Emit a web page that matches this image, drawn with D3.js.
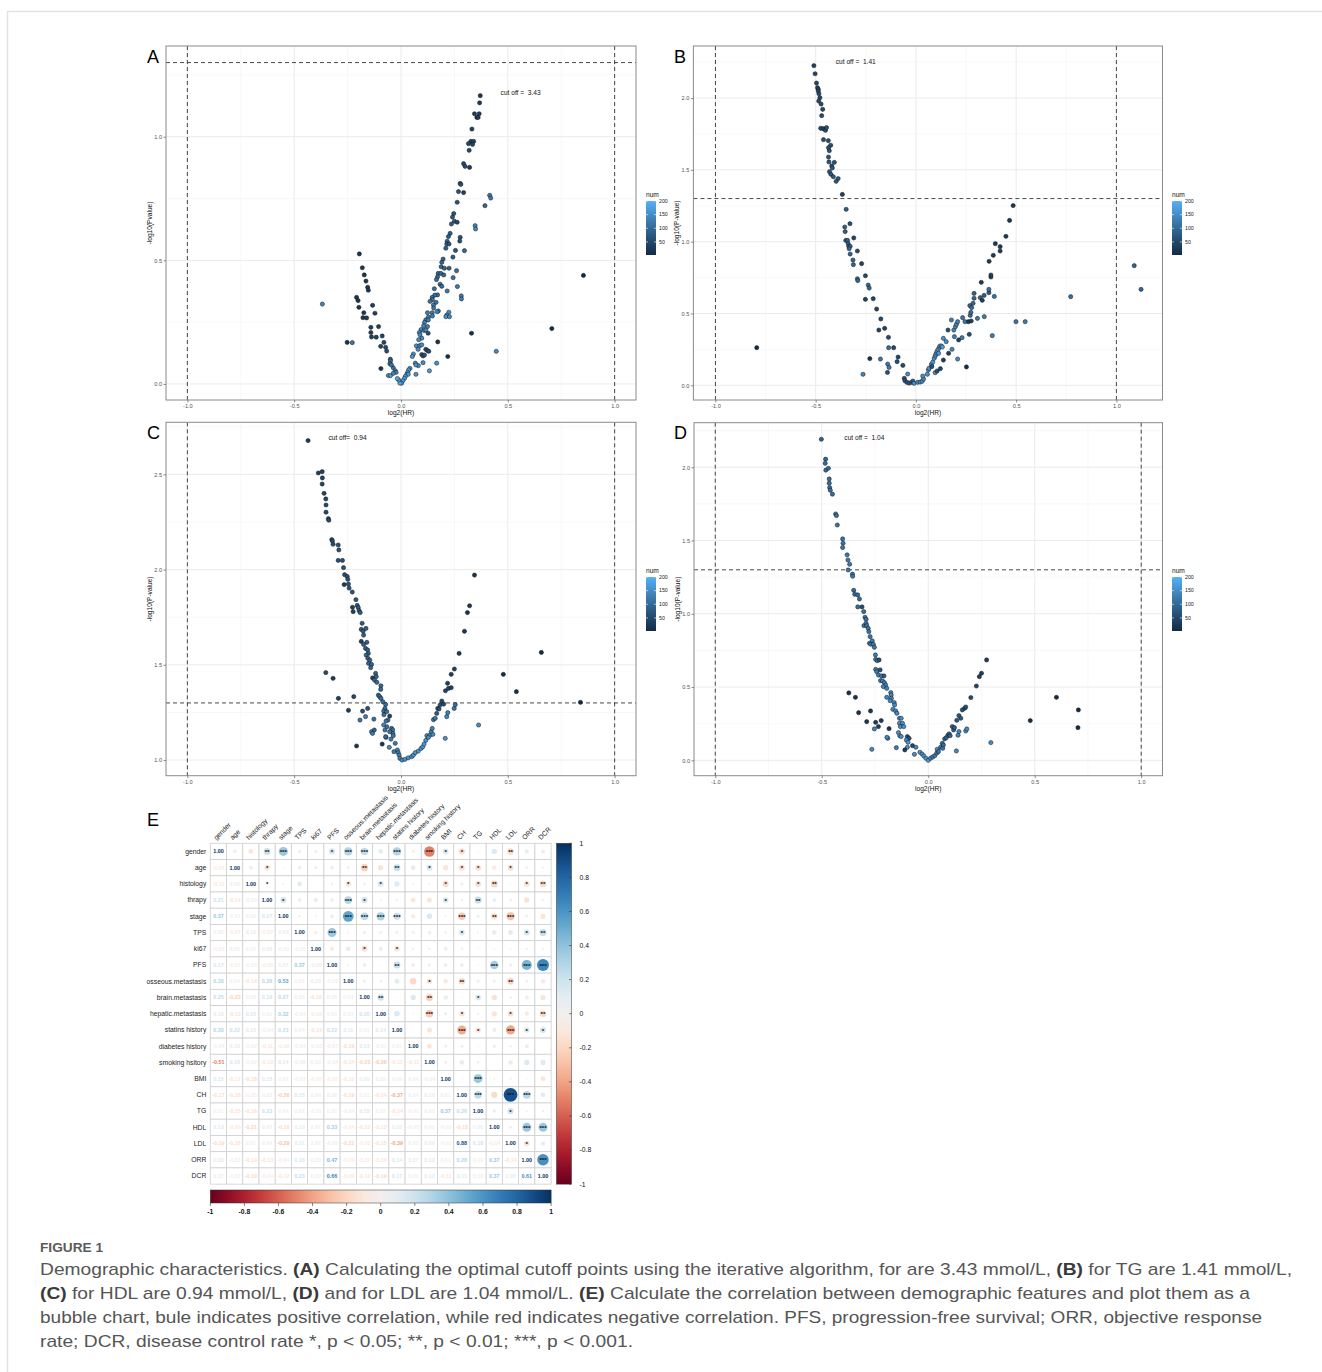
<!DOCTYPE html>
<html>
<head>
<meta charset="utf-8">
<script src="https://cdn.jsdelivr.net/npm/d3@7"></script>
<style>
  body { margin: 0; background: #fff; }
  svg { display: block; }
  text { font-family: "Liberation Sans", Arial, sans-serif; }
</style>
</head>
<body>
<svg id="fig" width="1322" height="1372"></svg>
<script>
// ---- volcano data: [log2(HR), -log10(P), num] ----
var ptsA = [
  [0.371,1.166,25],[0.368,1.137,28],[0.344,1.093,30],[0.366,1.093,32],[0.355,1.078,35],[0.361,1.078,34],[0.332,1.031,40],
  [0.327,0.981,45],[0.340,0.981,44],[0.316,0.972,48],[0.335,0.969,47],[0.319,0.945,50],[0.293,0.891,55],[0.300,0.880,56],
  [0.321,0.876,30],[0.277,0.811,60],[0.280,0.807,62],[0.269,0.778,64],[0.293,0.774,40],[0.263,0.735,66],[0.415,0.763,120],
  [0.420,0.752,125],[0.393,0.721,95],[0.247,0.689,70],[0.241,0.675,72],[0.250,0.658,74],[0.263,0.654,50],[0.236,0.647,76],
  [0.347,0.640,140],[0.349,0.627,145],[0.230,0.609,80],[0.222,0.596,82],[0.277,0.593,60],[0.216,0.577,85],[0.275,0.578,62],
  [0.214,0.566,86],[0.225,0.566,70],[0.210,0.549,88],[0.255,0.540,75],[0.297,0.539,100],[0.197,0.505,92],[0.243,0.513,80],
  [0.191,0.492,95],[0.188,0.474,97],[0.203,0.468,90],[0.225,0.468,85],[0.174,0.447,100],[0.186,0.447,98],[0.260,0.458,110],
  [0.244,0.430,115],[0.171,0.433,102],[0.166,0.422,104],[0.200,0.441,95],[0.183,0.403,100],[0.191,0.395,105],[0.156,0.385,108],
  [0.216,0.376,120],[0.264,0.394,125],[0.171,0.360,110],[0.158,0.359,112],[0.146,0.350,115],[0.147,0.341,116],[0.136,0.334,118],
  [0.164,0.330,120],[0.152,0.319,122],[0.282,0.356,130],[0.283,0.344,132],[0.153,0.307,125],[0.175,0.295,130],[0.169,0.292,135],
  [0.146,0.288,128],[0.124,0.288,125],[0.147,0.275,130],[0.128,0.270,128],[0.224,0.290,150],[0.214,0.278,155],[0.210,0.272,158],
  [0.227,0.272,150],[0.116,0.259,132],[0.110,0.249,134],[0.128,0.259,130],[0.106,0.235,138],[0.124,0.232,136],[0.094,0.220,140],
  [0.108,0.216,142],[0.116,0.218,140],[0.086,0.208,145],[0.127,0.205,60],[0.089,0.199,146],[0.097,0.185,148],[0.083,0.179,150],
  [0.072,0.154,155],[0.088,0.155,152],[0.097,0.158,150],[0.080,0.140,156],[0.116,0.140,60],[0.124,0.135,58],[0.130,0.132,55],
  [0.058,0.121,160],[0.053,0.111,162],[0.097,0.119,70],[0.103,0.113,68],[0.110,0.117,65],[0.103,0.086,150],[0.067,0.084,155],
  [0.081,0.074,158],[0.070,0.077,160],[0.042,0.063,165],[0.036,0.057,168],[0.031,0.047,170],[0.027,0.039,172],[0.034,0.039,170],
  [0.020,0.030,175],[0.016,0.022,178],[0.009,0.013,180],[0.003,0.003,185],[-0.005,0.003,190],[-0.011,0.016,186],[-0.017,0.022,184],
  [0.070,0.039,160],[0.133,0.053,170],[0.167,0.084,160],[0.172,0.170,15],[0.219,0.111,12],[0.330,0.205,10],[0.446,0.132,150],
  [0.706,0.224,8],[0.854,0.439,5],
  [-0.195,0.526,20],[-0.181,0.470,22],[-0.172,0.441,24],[-0.164,0.416,26],[-0.156,0.391,28],[-0.153,0.379,29],[-0.208,0.350,18],
  [-0.201,0.337,19],[-0.197,0.310,21],[-0.133,0.318,35],[-0.174,0.288,25],[-0.122,0.286,38],[-0.178,0.268,26],[-0.161,0.267,30],
  [-0.105,0.232,40],[-0.141,0.229,34],[-0.141,0.208,35],[-0.138,0.190,36],[-0.116,0.189,40],[-0.088,0.194,45],[-0.080,0.168,50],
  [-0.095,0.152,48],[-0.072,0.148,55],[-0.067,0.133,58],[-0.050,0.100,100],[-0.049,0.093,105],[-0.052,0.082,110],[-0.036,0.065,120],
  [-0.027,0.053,130],[-0.023,0.047,135],[-0.059,0.034,160],[-0.049,0.034,165],[-0.094,0.062,20],[-0.252,0.168,20],[-0.228,0.167,120],
  [-0.368,0.323,140],[-0.036,0.043,140],[-0.045,0.077,115]
];

var ptsB = [
  [-0.509,2.225,45],[-0.503,2.169,47],[-0.496,2.104,48],[-0.491,2.072,50],[-0.487,2.060,51],[-0.487,2.049,52],[-0.484,2.030,53],
  [-0.479,2.002,54],[-0.485,1.979,55],[-0.473,1.958,56],[-0.465,1.921,57],[-0.470,1.877,58],[-0.475,1.789,60],[-0.463,1.787,61],
  [-0.455,1.782,62],[-0.451,1.775,63],[-0.446,1.794,64],[-0.461,1.710,65],[-0.437,1.703,66],[-0.425,1.671,67],[-0.436,1.654,68],
  [-0.432,1.633,69],[-0.436,1.589,70],[-0.434,1.555,71],[-0.407,1.552,72],[-0.420,1.527,73],[-0.417,1.513,74],[-0.431,1.487,75],
  [-0.424,1.469,76],[-0.412,1.452,77],[-0.388,1.439,78],[-0.398,1.420,79],[-0.367,1.329,40],[-0.348,1.225,82],[-0.355,1.102,84],
  [-0.353,1.070,85],[-0.329,1.125,60],[-0.350,1.009,86],[-0.341,1.009,87],[-0.338,0.986,88],[-0.335,0.968,89],[-0.328,0.968,90],
  [-0.333,0.951,91],[-0.328,0.914,92],[-0.310,1.026,50],[-0.292,0.935,55],[-0.314,0.872,93],[-0.312,0.840,94],[-0.271,0.847,45],
  [-0.292,0.742,96],[-0.290,0.729,97],[-0.252,0.763,50],[-0.238,0.698,98],[-0.233,0.677,99],[-0.252,0.599,40],[-0.213,0.603,45],
  [-0.196,0.531,48],[-0.175,0.462,52],[-0.185,0.385,40],[-0.156,0.397,45],[-0.137,0.334,60],[-0.136,0.262,110],[-0.111,0.262,50],
  [-0.230,0.186,15],[-0.177,0.183,120],[-0.141,0.148,125],[-0.134,0.125,130],[-0.142,0.090,70],[-0.089,0.197,50],[-0.094,0.165,60],
  [-0.065,0.139,55],[-0.264,0.077,140],[-0.041,0.079,150],[-0.058,0.049,60],[-0.055,0.032,65],[-0.045,0.021,70],[-0.034,0.016,75],
  [-0.021,0.021,80],[-0.015,0.030,85],[-0.009,0.014,160],[-0.794,0.262,5],
  [0.009,0.021,150],[0.021,0.023,152],[0.031,0.028,154],[0.038,0.044,150],[0.034,0.065,155],[0.057,0.077,157],[0.062,0.107,158],
  [0.065,0.118,160],[0.077,0.146,162],[0.084,0.162,163],[0.079,0.130,60],[0.091,0.188,165],[0.096,0.204,166],[0.099,0.216,167],
  [0.103,0.227,168],[0.106,0.239,169],[0.111,0.251,170],[0.117,0.265,172],[0.120,0.274,174],[0.127,0.274,175],[0.132,0.267,176],
  [0.113,0.223,165],[0.096,0.088,150],[0.106,0.100,60],[0.122,0.116,50],[0.137,0.176,30],[0.137,0.327,155],[0.151,0.304,150],
  [0.160,0.385,60],[0.163,0.223,40],[0.177,0.455,130],[0.180,0.251,145],[0.189,0.385,140],[0.192,0.339,135],[0.197,0.408,140],
  [0.202,0.425,138],[0.208,0.443,135],[0.208,0.183,150],[0.213,0.316,40],[0.230,0.332,130],[0.233,0.471,120],[0.245,0.443,125],
  [0.252,0.128,10],[0.262,0.443,30],[0.266,0.355,60],[0.269,0.555,100],[0.271,0.487,110],[0.274,0.508,105],[0.276,0.448,40],
  [0.278,0.541,102],[0.285,0.571,98],[0.290,0.606,95],[0.290,0.640,92],[0.307,0.466,120],[0.321,0.610,88],[0.326,0.717,30],
  [0.331,0.592,40],[0.340,0.626,85],[0.341,0.478,130],[0.364,0.645,80],[0.364,0.668,110],[0.365,0.863,35],[0.374,0.754,40],
  [0.374,0.768,42],[0.381,0.346,130],[0.386,0.905,33],[0.391,0.619,120],[0.396,0.986,30],[0.420,0.965,28],[0.420,0.935,29],
  [0.449,1.037,25],[0.467,1.148,22],[0.485,1.251,20],[0.499,0.443,120],[0.545,0.443,125],[0.772,0.617,110],[1.089,0.833,95],
  [1.123,0.668,100]
];

var ptsC = [
  [-0.435,2.677,30],[-0.387,2.507,35],[-0.369,2.514,40],[-0.368,2.481,42],[-0.369,2.449,44],[-0.360,2.400,46],[-0.352,2.371,48],
  [-0.351,2.339,50],[-0.351,2.301,52],[-0.340,2.267,54],[-0.338,2.259,55],[-0.324,2.157,58],[-0.321,2.150,60],[-0.318,2.133,61],
  [-0.294,2.129,62],[-0.291,2.103,63],[-0.294,2.048,64],[-0.274,2.048,65],[-0.269,2.010,66],[-0.264,1.973,67],[-0.266,1.921,30],
  [-0.252,1.964,68],[-0.249,1.949,69],[-0.246,1.924,70],[-0.243,1.903,71],[-0.228,1.882,72],[-0.211,1.842,74],[-0.227,1.802,35],
  [-0.224,1.779,36],[-0.205,1.812,75],[-0.200,1.800,76],[-0.196,1.784,77],[-0.191,1.774,78],[-0.182,1.718,80],[-0.186,1.686,81],
  [-0.177,1.677,82],[-0.164,1.691,83],[-0.175,1.656,84],[-0.186,1.623,40],[-0.160,1.618,85],[-0.175,1.607,86],[-0.166,1.586,87],
  [-0.156,1.578,88],[-0.153,1.560,89],[-0.163,1.551,90],[-0.155,1.534,91],[-0.146,1.525,92],[-0.152,1.508,93],[-0.138,1.502,94],
  [-0.142,1.485,95],[-0.119,1.455,96],[-0.116,1.438,97],[-0.133,1.431,45],[-0.124,1.420,98],[-0.113,1.408,99],[-0.094,1.390,100],
  [-0.095,1.371,101],[-0.106,1.341,102],[-0.100,1.333,103],[-0.094,1.324,104],[-0.085,1.306,105],[-0.072,1.292,106],[-0.075,1.271,107],
  [-0.081,1.257,108],[-0.067,1.254,109],[-0.080,1.238,110],[-0.053,1.231,40],[-0.061,1.210,112],[-0.070,1.205,113],[-0.081,1.184,140],
  [-0.066,1.175,115],[-0.044,1.166,116],[-0.039,1.158,117],[-0.075,1.158,118],[-0.038,1.140,119],[-0.053,1.149,120],[-0.036,1.128,121],
  [-0.070,1.119,150],[-0.047,1.110,122],[-0.027,1.088,124],[-0.055,1.067,150],[-0.088,1.084,20],[-0.033,1.044,126],[-0.017,1.053,128],
  [-0.013,1.039,130],[-0.009,1.026,132],[-0.005,1.009,140],[0.005,1.000,150],[0.019,1.004,155],[0.034,1.012,158],[0.050,1.018,160],
  [0.058,1.026,162],[0.067,1.039,164],[0.081,1.047,165],[0.094,1.061,166],[0.102,1.070,167],[0.108,1.084,168],[0.116,1.103,160],
  [0.121,1.128,150],[0.136,1.131,155],[0.141,1.149,140],[0.146,1.166,135],[0.152,1.212,120],[0.160,1.219,115],[0.167,1.245,80],
  [0.172,1.271,75],[0.183,1.289,60],[0.191,1.310,55],[0.200,1.294,50],[0.208,1.364,45],[0.218,1.403,42],[0.222,1.376,44],
  [0.235,1.380,40],[0.235,1.450,38],[0.250,1.478,35],[0.272,1.560,30],[0.297,1.676,25],[0.311,1.774,22],[0.321,1.810,20],
  [0.344,1.971,18],[0.207,1.114,160],[0.214,1.228,140],[0.219,1.249,130],[0.249,1.271,120],[0.254,1.291,110],[0.178,1.268,60],
  [0.128,1.119,150],[0.149,1.135,145],[0.363,1.184,150],[0.479,1.450,10],[0.540,1.359,12],[0.657,1.565,8],[0.840,1.303,5],
  [-0.352,1.459,60],[-0.318,1.429,30],[-0.293,1.324,40],[-0.246,1.261,35],[-0.221,1.333,50],[-0.192,1.210,120],[-0.180,1.257,60],
  [-0.166,1.228,130],[-0.156,1.271,70],[-0.138,1.149,140],[-0.133,1.140,130],[-0.125,1.158,90],[-0.127,1.215,110],[-0.208,1.074,20],
  [-0.072,1.123,100]
];

var ptsD = [
  [-0.502,2.191,90],[-0.482,2.055,100],[-0.484,2.027,102],[-0.481,1.980,104],[-0.469,1.993,103],[-0.465,1.920,106],[-0.465,1.891,107],
  [-0.463,1.861,108],[-0.460,1.843,109],[-0.450,1.816,110],[-0.435,1.681,112],[-0.431,1.670,113],[-0.427,1.606,114],[-0.402,1.511,116],
  [-0.400,1.481,117],[-0.402,1.452,118],[-0.381,1.402,119],[-0.377,1.367,120],[-0.369,1.338,121],[-0.376,1.299,122],[-0.356,1.270,123],
  [-0.355,1.256,124],[-0.350,1.160,100],[-0.345,1.133,102],[-0.331,1.129,104],[-0.323,1.101,106],[-0.331,1.047,108],[-0.311,1.047,60],
  [-0.303,1.015,110],[-0.297,0.976,112],[-0.292,0.962,114],[-0.302,0.919,115],[-0.292,0.935,116],[-0.289,0.919,117],[-0.282,0.901,118],
  [-0.279,0.878,119],[-0.273,0.844,120],[-0.276,0.799,121],[-0.270,0.792,122],[-0.263,0.815,123],[-0.258,0.792,124],[-0.253,0.771,125],
  [-0.248,0.719,126],[-0.247,0.689,127],[-0.240,0.680,128],[-0.231,0.685,60],[-0.247,0.621,130],[-0.242,0.605,131],[-0.226,0.617,70],
  [-0.234,0.582,132],[-0.219,0.576,133],[-0.208,0.576,80],[-0.224,0.544,134],[-0.215,0.542,135],[-0.206,0.530,136],[-0.200,0.514,137],
  [-0.211,0.503,138],[-0.195,0.491,139],[-0.176,0.462,140],[-0.174,0.446,141],[-0.195,0.430,142],[-0.173,0.423,143],[-0.179,0.407,144],
  [-0.160,0.394,145],[-0.158,0.378,146],[-0.166,0.348,147],[-0.153,0.337,148],[-0.147,0.321,149],[-0.135,0.287,150],[-0.127,0.287,151],
  [-0.135,0.253,152],[-0.121,0.253,153],[-0.131,0.230,154],[-0.115,0.230,155],[-0.140,0.189,156],[-0.134,0.168,157],[-0.127,0.162,158],
  [-0.098,0.162,60],[-0.090,0.150,62],[-0.103,0.139,159],[-0.095,0.123,160],[-0.098,0.089,150],[-0.110,0.071,30],[-0.074,0.100,50],
  [-0.058,0.089,140],[-0.065,0.041,150],[-0.039,0.055,160],[-0.029,0.043,162],[-0.021,0.030,164],[-0.011,0.014,166],[0.000,0.000,170],
  [0.011,0.014,140],[0.021,0.023,135],[0.031,0.032,130],[0.040,0.050,125],[0.042,0.075,150],[0.048,0.059,120],[0.058,0.089,115],
  [0.066,0.116,110],[0.068,0.082,120],[0.071,0.105,105],[0.077,0.146,100],[0.085,0.155,98],[0.092,0.171,95],[0.098,0.180,92],
  [0.103,0.168,90],[0.113,0.230,88],[0.119,0.207,85],[0.123,0.223,82],[0.132,0.064,150],[0.140,0.171,140],[0.144,0.196,145],
  [0.134,0.273,80],[0.144,0.305,75],[0.153,0.287,78],[0.160,0.344,70],[0.171,0.355,65],[0.176,0.364,62],[0.176,0.200,150],
  [0.181,0.214,148],[0.200,0.428,55],[0.226,0.507,45],[0.240,0.571,40],[0.250,0.594,35],[0.274,0.685,30],[0.294,0.121,150],
  [0.479,0.271,10],[0.602,0.430,8],[0.705,0.344,6],[0.703,0.223,5],
  [-0.373,0.460,15],[-0.342,0.430,18],[-0.327,0.325,20],[-0.289,0.264,25],[-0.271,0.337,22],[-0.253,0.214,140],[-0.247,0.259,30],
  [-0.234,0.230,35],[-0.221,0.271,28],[-0.265,0.075,150],[-0.190,0.150,140],[-0.194,0.157,145],[-0.184,0.216,20],[-0.150,0.086,130]
];

var cutoffs = ["3.43", "1.41", "0.94", "1.04"];
var xTicks = [-1.0, -0.5, 0.0, 0.5, 1.0];
var yTicksA = [0.0, 0.5, 1.0];
var yTicksB = [0.0, 0.5, 1.0, 1.5, 2.0];
var yTicksC = [1.0, 1.5, 2.0, 2.5];
var yTicksD = [0.0, 0.5, 1.0, 1.5, 2.0];
var numTicks = [50, 100, 150, 200];
var sigLine = 1.3;   // -log10(0.05)

// ---- correlation data ----
var vars = ["gender","age","histology","thrapy","stage","TPS","ki67","PFS","osseous.metastasis","brain.metastasis",
  "hepatic.metastasis","statins history","diabetes history","smoking history","BMI","CH","TG","HDL","LDL","ORR","DCR"];
var rowNames = ["gender","age","histology","thrapy","stage","TPS","ki67","PFS","osseous.metastasis","brain.metastasis",
  "hepatic.metastasis","statins history","diabetes history","smoking hsitory","BMI","CH","TG","HDL","LDL","ORR","DCR"];
var corrLower = [
  [1.00],
  [-0.06,1.00],
  [-0.11,0.06,1.00],
  [0.21,-0.14,-0.03,1.00],
  [0.37,-0.01,0.02,0.17,1.00],
  [0.05,-0.07,0.11,-0.07,0.03,1.00],
  [-0.05,0.05,0.00,0.08,-0.02,-0.05,1.00],
  [0.17,-0.07,-0.03,-0.06,0.07,0.37,-0.08,1.00],
  [0.30,0.04,-0.14,0.28,0.53,0.02,0.10,-0.02,1.00],
  [0.25,-0.23,0.03,0.18,0.27,0.05,-0.16,0.06,0.04,1.00],
  [0.10,-0.13,0.15,0.02,0.32,-0.04,-0.08,0.01,0.03,0.20,1.00],
  [0.30,0.22,0.12,-0.04,0.23,0.04,-0.14,0.22,0.11,0.01,0.14,1.00],
  [-0.04,0.10,-0.02,-0.11,-0.08,-0.04,-0.03,-0.07,-0.19,0.13,-0.01,0.01,1.00],
  [-0.51,0.16,-0.02,-0.12,0.14,-0.06,0.03,-0.04,-0.14,-0.23,-0.26,-0.12,-0.11,1.00],
  [0.15,-0.12,-0.18,0.15,0.02,-0.03,-0.07,-0.07,-0.10,0.09,0.05,0.00,0.04,-0.04,1.00],
  [-0.17,-0.16,-0.05,0.03,-0.26,0.15,0.04,0.06,-0.19,0.01,-0.14,-0.37,0.04,0.10,0.01,1.00],
  [0.01,-0.15,-0.16,0.23,0.04,0.02,-0.01,0.01,-0.04,0.15,0.02,-0.14,-0.01,0.03,0.37,0.26,1.00],
  [0.13,-0.09,-0.21,0.07,-0.18,0.10,0.02,0.33,-0.04,-0.13,-0.12,0.08,-0.05,0.00,-0.02,-0.18,0.06,1.00],
  [-0.19,-0.16,0.01,0.04,-0.29,0.11,0.02,-0.05,-0.21,-0.03,-0.15,-0.39,0.03,0.09,-0.02,0.88,0.18,-0.04,1.00],
  [0.08,-0.03,-0.14,-0.13,-0.04,0.16,0.03,0.47,-0.03,-0.07,-0.08,0.14,0.07,0.13,0.01,0.28,0.02,0.37,-0.14,1.00],
  [0.07,-0.02,-0.19,-0.04,-0.12,0.23,0.02,0.66,-0.09,-0.12,-0.19,0.17,0.00,0.12,-0.11,0.11,0.03,0.37,0.08,0.61,1.00]
];
// significance stars shown in the upper triangle: [row, column, stars]
var sigStars = [
  ["gender","thrapy",2],["gender","stage",3],["gender","PFS",1],["gender","osseous.metastasis",3],["gender","brain.metastasis",3],
  ["gender","statins history",3],["gender","smoking history",3],["gender","BMI",1],["gender","CH",1],["gender","LDL",2],
  ["age","thrapy",1],["age","brain.metastasis",2],["age","statins history",2],["age","smoking history",1],["age","CH",1],
  ["age","TG",1],["age","LDL",1],
  ["histology","thrapy",1],["histology","osseous.metastasis",1],["histology","hepatic.metastasis",1],["histology","BMI",1],
  ["histology","TG",1],["histology","HDL",2],["histology","ORR",1],["histology","DCR",2],
  ["thrapy","stage",1],["thrapy","osseous.metastasis",3],["thrapy","brain.metastasis",1],["thrapy","BMI",1],["thrapy","TG",2],
  ["stage","osseous.metastasis",3],["stage","brain.metastasis",3],["stage","hepatic.metastasis",3],["stage","statins history",3],
  ["stage","CH",3],["stage","HDL",2],["stage","LDL",3],
  ["TPS","PFS",3],["TPS","CH",1],["TPS","ORR",1],["TPS","DCR",2],
  ["ki67","brain.metastasis",1],["ki67","statins history",1],
  ["PFS","statins history",2],["PFS","HDL",3],["PFS","ORR",3],["PFS","DCR",3],
  ["osseous.metastasis","smoking history",1],["osseous.metastasis","CH",2],["osseous.metastasis","LDL",2],
  ["brain.metastasis","hepatic.metastasis",2],["brain.metastasis","smoking history",2],["brain.metastasis","TG",1],
  ["hepatic.metastasis","smoking history",3],["hepatic.metastasis","CH",1],["hepatic.metastasis","LDL",1],["hepatic.metastasis","DCR",2],
  ["statins history","CH",3],["statins history","TG",1],["statins history","LDL",3],["statins history","ORR",1],["statins history","DCR",1],
  ["BMI","TG",3],["CH","TG",3],["CH","LDL",3],["CH","ORR",3],["TG","LDL",1],
  ["HDL","ORR",3],["HDL","DCR",3],["LDL","ORR",1],["ORR","DCR",3]
];
var corrTicks = [-1, -0.8, -0.6, -0.4, -0.2, 0, 0.2, 0.4, 0.6, 0.8, 1];

var captionTitle = "FIGURE 1";
var captionLines = [
  "Demographic characteristics. (A) Calculating the optimal cutoff points using the iterative algorithm, for are 3.43 mmol/L, (B) for TG are 1.41 mmol/L,",
  "(C) for HDL are 0.94 mmol/L, (D) and for LDL are 1.04 mmol/L. (E) Calculate the correlation between demographic features and plot them as a",
  "bubble chart, bule indicates positive correlation, while red indicates negative correlation. PFS, progression-free survival; ORR, objective response",
  "rate; DCR, disease control rate *, p < 0.05; **, p < 0.01; ***, p < 0.001."
];

// ================= drawing =================
var svg = d3.select("#fig");
var defs = svg.append("defs");

// outer frame of the figure box
svg.append("rect").attr("x", 7.5).attr("y", 11.5).attr("width", 1400).attr("height", 1400)
  .attr("fill", "none").attr("stroke", "#e2e2e2").attr("stroke-width", 1.5);

var numColor = d3.scaleLinear().domain([2, 200]).range(["#132B43", "#56B1F7"]).interpolate(d3.interpolateLab);

function minorOf(ticks, domain) {
  var step = ticks[1] - ticks[0], out = [];
  for (var v = ticks[0] - step / 2; v <= ticks[ticks.length - 1] + step; v += step) {
    if (v >= domain[0] && v <= domain[1]) out.push(v);
  }
  return out;
}

function volcano(p) {
  var x = d3.scaleLinear().domain(p.xDomain).range([p.box[0], p.box[2]]);
  var y = d3.scaleLinear().domain(p.yDomain).range([p.box[3], p.box[1]]);
  var g = svg.append("g").attr("class", "volcano");

  g.append("rect").attr("x", p.box[0]).attr("y", p.box[1])
    .attr("width", p.box[2] - p.box[0]).attr("height", p.box[3] - p.box[1]).attr("fill", "#fff");

  // grid
  g.selectAll(".xminor").data(minorOf(xTicks, p.xDomain)).enter().append("line")
    .attr("x1", function (d) { return x(d); }).attr("x2", function (d) { return x(d); })
    .attr("y1", p.box[1]).attr("y2", p.box[3]).attr("stroke", "#f4f4f4").attr("stroke-width", 0.6);
  g.selectAll(".yminor").data(minorOf(p.yTicks, p.yDomain)).enter().append("line")
    .attr("y1", function (d) { return y(d); }).attr("y2", function (d) { return y(d); })
    .attr("x1", p.box[0]).attr("x2", p.box[2]).attr("stroke", "#f4f4f4").attr("stroke-width", 0.6);
  g.selectAll(".xmajor").data(xTicks).enter().append("line")
    .attr("x1", function (d) { return x(d); }).attr("x2", function (d) { return x(d); })
    .attr("y1", p.box[1]).attr("y2", p.box[3]).attr("stroke", "#ebebeb").attr("stroke-width", 1);
  g.selectAll(".ymajor").data(p.yTicks).enter().append("line")
    .attr("y1", function (d) { return y(d); }).attr("y2", function (d) { return y(d); })
    .attr("x1", p.box[0]).attr("x2", p.box[2]).attr("stroke", "#ebebeb").attr("stroke-width", 1);

  // dashed reference lines
  g.selectAll(".vref").data([-1, 1]).enter().append("line")
    .attr("x1", function (d) { return x(d); }).attr("x2", function (d) { return x(d); })
    .attr("y1", p.box[1]).attr("y2", p.box[3])
    .attr("stroke", "#333").attr("stroke-width", 0.9).attr("stroke-dasharray", "4,3");
  g.append("line").attr("x1", p.box[0]).attr("x2", p.box[2])
    .attr("y1", y(sigLine)).attr("y2", y(sigLine))
    .attr("stroke", "#333").attr("stroke-width", 0.9).attr("stroke-dasharray", "4,3");

  // points
  g.selectAll("circle.pt").data(p.pts).enter().append("circle").attr("class", "pt")
    .attr("cx", function (d) { return x(d[0]); })
    .attr("cy", function (d) { return y(d[1]); })
    .attr("r", 2.1)
    .attr("fill", function (d) { return numColor(d[2]); })
    .attr("stroke", "#111").attr("stroke-width", 0.5);

  // annotation (two spaces kept before the value)
  g.append("text").attr("x", x(p.cutPos[0])).attr("y", y(p.cutPos[1]))
    .attr("text-anchor", "middle").attr("dy", "0.35em")
    .attr("font-size", 6.6).attr("fill", "#111")
    .text("cut off" + p.cutSep + "\u00a0\u00a0" + p.cutoff);

  // border
  g.append("rect").attr("x", p.box[0]).attr("y", p.box[1])
    .attr("width", p.box[2] - p.box[0]).attr("height", p.box[3] - p.box[1])
    .attr("fill", "none").attr("stroke", "#8a8a8a").attr("stroke-width", 1);

  // axes
  var xAxis = d3.axisBottom(x).tickValues(xTicks).tickSize(2.5).tickPadding(1.5);
  var gx = g.append("g").attr("transform", "translate(0," + p.box[3] + ")").call(xAxis);
  var yAxis = d3.axisLeft(y).tickValues(p.yTicks).tickSize(2.5).tickPadding(1.5);
  var gy = g.append("g").attr("transform", "translate(" + p.box[0] + ",0)").call(yAxis);
  [gx, gy].forEach(function (a) {
    a.select(".domain").remove();
    a.selectAll(".tick line").attr("stroke", "#444").attr("stroke-width", 0.6);
    a.selectAll(".tick text").attr("font-size", 5.6).attr("fill", "#555")
      .attr("font-family", "'Liberation Sans', Arial, sans-serif")
      .text(function (d) { return d.toFixed(1); });
  });

  g.append("text").attr("x", (p.box[0] + p.box[2]) / 2).attr("y", p.box[3] + 15)
    .attr("text-anchor", "middle").attr("font-size", 6.6).attr("fill", "#111").text("log2(HR)");
  g.append("text").attr("transform", "translate(" + (p.box[0] - 14) + "," + ((p.box[1] + p.box[3]) / 2) + ") rotate(-90)")
    .attr("text-anchor", "middle").attr("font-size", 6.6).attr("fill", "#111").text(p.yTitle);

  // panel letter
  svg.append("text").attr("x", p.letterPos[0]).attr("y", p.letterPos[1])
    .attr("font-size", 18).attr("fill", "#000").text(p.letter);

  // colour legend
  var lx = p.legend[0], ly = p.legend[1], lw = 10, lh = 54;
  var gid = "grad" + p.letter;
  var grad = defs.append("linearGradient").attr("id", gid)
    .attr("x1", 0).attr("y1", 1).attr("x2", 0).attr("y2", 0);
  d3.range(0, 1.0001, 0.1).forEach(function (t) {
    grad.append("stop").attr("offset", t).attr("stop-color", numColor(2 + t * 198));
  });
  var lg = svg.append("g");
  lg.append("text").attr("x", lx).attr("y", ly - 4).attr("font-size", 6.6).attr("fill", "#111").text("num");
  lg.append("rect").attr("x", lx).attr("y", ly).attr("width", lw).attr("height", lh).attr("fill", "url(#" + gid + ")");
  var ls = d3.scaleLinear().domain([2, 200]).range([ly + lh, ly]);
  numTicks.forEach(function (v) {
    lg.append("line").attr("x1", lx).attr("x2", lx + 2).attr("y1", ls(v)).attr("y2", ls(v)).attr("stroke", "#fff").attr("stroke-width", 0.6);
    lg.append("line").attr("x1", lx + lw - 2).attr("x2", lx + lw).attr("y1", ls(v)).attr("y2", ls(v)).attr("stroke", "#fff").attr("stroke-width", 0.6);
    lg.append("text").attr("x", lx + lw + 3).attr("y", ls(v)).attr("dy", "0.35em")
      .attr("font-size", 5.2).attr("fill", "#222").text(v);
  });
}

volcano({ letter: "A", pts: ptsA, box: [166, 46, 636, 400], xDomain: [-1.1, 1.1], yDomain: [-0.065, 1.367],
  yTicks: yTicksA, cutoff: cutoffs[0], cutSep: " =", cutPos: [0.56, 1.18], yTitle: "-log10(Pvalue)",
  letterPos: [147, 63], legend: [646, 201] });
volcano({ letter: "B", pts: ptsB, box: [693.4, 46, 1162.5, 400], xDomain: [-1.11, 1.23], yDomain: [-0.102, 2.362],
  yTicks: yTicksB, cutoff: cutoffs[1], cutSep: " =", cutPos: [-0.30, 2.25], yTitle: "-log10(P-value)",
  letterPos: [674, 63], legend: [1172, 201] });
volcano({ letter: "C", pts: ptsC, box: [166, 422.3, 636, 775.7], xDomain: [-1.1, 1.1], yDomain: [0.918, 2.773],
  yTicks: yTicksC, cutoff: cutoffs[2], cutSep: "=", cutPos: [-0.25, 2.69], yTitle: "-log10(P-value)",
  letterPos: [147, 439], legend: [646, 577] });
volcano({ letter: "D", pts: ptsD, box: [694, 422.7, 1162.5, 775.7], xDomain: [-1.1, 1.1], yDomain: [-0.105, 2.304],
  yTicks: yTicksD, cutoff: cutoffs[3], cutSep: " =", cutPos: [-0.30, 2.20], yTitle: "-log10(P-value)",
  letterPos: [674, 439], legend: [1172, 577] });

// ================= correlation matrix (E) =================
var gx0 = 210.3, gy0 = 843.3, cell = 16.23, n = vars.length;
var colScale = d3.scaleBand().domain(vars).range([gx0, gx0 + n * cell]);
var rowScale = d3.scaleBand().domain(vars).range([gy0, gy0 + n * cell]);
var rdbu = function (r) { return d3.interpolateRdBu((r + 1) / 2); };
function corr(i, j) { return i >= j ? corrLower[i][j] : corrLower[j][i]; }

var E = svg.append("g").attr("class", "corr");
svg.append("text").attr("x", 147).attr("y", 826).attr("font-size", 18).attr("fill", "#000").text("E");

var cells = [];
vars.forEach(function (rv, i) {
  vars.forEach(function (cv, j) { cells.push({ i: i, j: j, r: corr(i, j) }); });
});

// grid
E.selectAll("rect.cell").data(cells).enter().append("rect").attr("class", "cell")
  .attr("x", function (d) { return colScale(vars[d.j]); })
  .attr("y", function (d) { return rowScale(vars[d.i]); })
  .attr("width", cell).attr("height", cell)
  .attr("fill", "#fff").attr("stroke", "#cfcfcf").attr("stroke-width", 0.8);

// upper triangle: circles
var upper = cells.filter(function (d) { return d.j > d.i; });
E.selectAll("circle.bub").data(upper).enter().append("circle").attr("class", "bub")
  .attr("cx", function (d) { return colScale(vars[d.j]) + cell / 2; })
  .attr("cy", function (d) { return rowScale(vars[d.i]) + cell / 2; })
  .attr("r", function (d) { return 7.4 * Math.sqrt(Math.abs(d.r)); })
  .attr("fill", function (d) { return rdbu(d.r); });

// stars
E.selectAll("text.star").data(sigStars).enter().append("text").attr("class", "star")
  .attr("x", function (d) { return colScale(d[1]) + cell / 2; })
  .attr("y", function (d) { return rowScale(d[0]) + cell / 2 + 2.6; })
  .attr("text-anchor", "middle").attr("font-size", 6.2).attr("font-weight", "bold").attr("fill", "#111")
  .text(function (d) { return "*".repeat(d[2]); });

// lower triangle + diagonal: numbers
var lower = cells.filter(function (d) { return d.j <= d.i; });
E.selectAll("text.num").data(lower).enter().append("text").attr("class", "num")
  .attr("x", function (d) { return colScale(vars[d.j]) + cell / 2; })
  .attr("y", function (d) { return rowScale(vars[d.i]) + cell / 2; })
  .attr("dy", "0.35em").attr("text-anchor", "middle")
  .attr("font-size", 5.4).attr("font-weight", "bold")
  .attr("fill", function (d) { return rdbu(d.r); })
  .text(function (d) { return d.r.toFixed(2); });

// row labels
E.selectAll("text.rlab").data(rowNames).enter().append("text").attr("class", "rlab")
  .attr("x", gx0 - 4)
  .attr("y", function (d, i) { return rowScale(vars[i]) + cell / 2; })
  .attr("dy", "0.35em").attr("text-anchor", "end").attr("font-size", 6.8).attr("fill", "#222")
  .text(function (d) { return d; });

// column labels
E.selectAll("text.clab").data(vars).enter().append("text").attr("class", "clab")
  .attr("transform", function (d) { return "translate(" + (colScale(d) + cell / 2 - 2) + "," + (gy0 - 3) + ") rotate(-45)"; })
  .attr("text-anchor", "start").attr("font-size", 6.8).attr("fill", "#222")
  .text(function (d) { return d; });

// colour bars
var cgV = defs.append("linearGradient").attr("id", "rdbuV").attr("x1", 0).attr("y1", 1).attr("x2", 0).attr("y2", 0);
var cgH = defs.append("linearGradient").attr("id", "rdbuH").attr("x1", 0).attr("y1", 0).attr("x2", 1).attr("y2", 0);
d3.range(0, 1.0001, 0.05).forEach(function (t) {
  cgV.append("stop").attr("offset", t).attr("stop-color", d3.interpolateRdBu(t));
  cgH.append("stop").attr("offset", t).attr("stop-color", d3.interpolateRdBu(t));
});
var fmtTick = function (v) { return String(v); };

// vertical bar on the right
var vbX = 556.5, vbW = 15, vbTop = gy0, vbBot = gy0 + n * cell;
var vScale = d3.scaleLinear().domain([-1, 1]).range([vbBot, vbTop]);
E.append("rect").attr("x", vbX).attr("y", vbTop).attr("width", vbW).attr("height", vbBot - vbTop)
  .attr("fill", "url(#rdbuV)").attr("stroke", "#333").attr("stroke-width", 0.5);
E.selectAll("line.vtick").data(corrTicks).enter().append("line").attr("class", "vtick")
  .attr("x1", vbX + vbW - 2.5).attr("x2", vbX + vbW)
  .attr("y1", function (d) { return vScale(d); }).attr("y2", function (d) { return vScale(d); })
  .attr("stroke", "#333").attr("stroke-width", 0.6);
E.selectAll("text.vlab").data(corrTicks).enter().append("text").attr("class", "vlab")
  .attr("x", vbX + vbW + 8).attr("y", function (d) { return vScale(d); }).attr("dy", "0.35em")
  .attr("font-size", 6.8).attr("fill", "#111").text(fmtTick);

// horizontal bar at the bottom
var hbY = 1190, hbH = 13;
var hScale = d3.scaleLinear().domain([-1, 1]).range([gx0, gx0 + n * cell]);
E.append("rect").attr("x", gx0).attr("y", hbY).attr("width", n * cell).attr("height", hbH)
  .attr("fill", "url(#rdbuH)").attr("stroke", "#333").attr("stroke-width", 0.5);
E.selectAll("line.htick").data(corrTicks).enter().append("line").attr("class", "htick")
  .attr("x1", function (d) { return hScale(d); }).attr("x2", function (d) { return hScale(d); })
  .attr("y1", hbY + hbH).attr("y2", hbY + hbH + 3)
  .attr("stroke", "#333").attr("stroke-width", 0.6);
E.selectAll("text.hlab").data(corrTicks).enter().append("text").attr("class", "hlab")
  .attr("x", function (d) { return hScale(d); }).attr("y", hbY + hbH + 11)
  .attr("text-anchor", "middle").attr("font-size", 6.8).attr("font-weight", "bold").attr("fill", "#111").text(fmtTick);

// ================= caption =================
var cap = svg.append("g").attr("class", "caption");
cap.append("text").attr("x", 40).attr("y", 1252).attr("font-family", "'Open Sans', sans-serif")
  .attr("font-size", 12.5).attr("font-weight", 600).attr("fill", "#5a5a5a")
  .attr("textLength", 63).attr("lengthAdjust", "spacingAndGlyphs").text(captionTitle);
var capWidths = [1252, 1210, 1222, 593];
captionLines.forEach(function (line, k) {
  var t = cap.append("text").attr("x", 40).attr("y", 1275 + k * 24)
    .attr("font-family", "'Open Sans', sans-serif").attr("font-size", 17).attr("font-weight", 300)
    .attr("fill", "#555")
    .attr("textLength", capWidths[k]).attr("lengthAdjust", "spacingAndGlyphs");
  line.split(/(\([A-E]\))/).forEach(function (part) {
    if (!part) return;
    var ts = t.append("tspan").text(part);
    if (/^\([A-E]\)$/.test(part)) ts.attr("font-weight", 700).attr("fill", "#3a3a3a");
  });
});
</script>
</body>
</html>
